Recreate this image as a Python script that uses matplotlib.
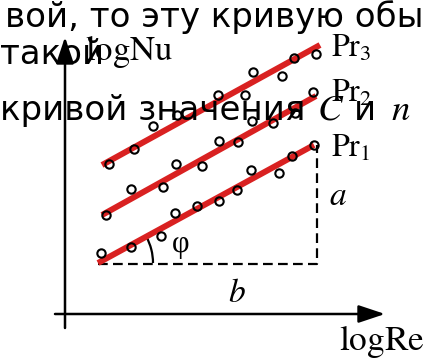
import matplotlib
matplotlib.use("Agg")
import matplotlib.pyplot as plt
from matplotlib.patches import Arc

plt.rcParams['mathtext.fontset'] = 'stix'
plt.rcParams['lines.scale_dashes'] = False

# точки (координаты в пикселях картинки, y вниз)
pr1_x = [101, 131, 161, 175, 197, 219, 237, 251, 279, 292, 314]
pr1_y = [253, 247, 236, 213, 206, 201, 190, 170, 173, 156, 145]
pr2_x = [106, 131, 163, 176, 202, 219, 238, 252, 273, 295, 313]
pr2_y = [215, 189, 187, 164, 166, 141, 142, 121, 123, 113, 92]
pr3_x = [109, 134, 153, 177, 218, 245, 253, 282, 294, 316]
pr3_y = [164, 149, 126, 115, 95, 95, 72, 76, 58, 54]

# аппроксимирующие прямые: (x0, y0, x1, y1)
fit_x0 = [98, 102, 102]
fit_y0 = [263, 215, 165]
fit_x1 = [314, 316, 320]
fit_y1 = [145, 96, 45]
labels = [r'$\mathrm{Pr}_1$', r'$\mathrm{Pr}_2$', r'$\mathrm{Pr}_3$']
label_y = [157, 102, 57]

RED = '#d92121'
TXT = 24.5

fig = plt.figure(figsize=(4.27, 3.58), dpi=100)
ax = fig.add_axes([0, 0, 1, 1])
ax.set_xlim(0, 427)
ax.set_ylim(358, 0)
ax.axis('off')

# оси
arrow = dict(arrowstyle='-|>,head_length=0.9,head_width=0.3', lw=1.8,
             color='k', shrinkA=0, shrinkB=0, mutation_scale=18)
ax.annotate('', xy=(65, 37), xytext=(65, 328), arrowprops=arrow)
ax.annotate('', xy=(385, 314), xytext=(55, 314), arrowprops=arrow)

# прямые и точки
series = [(pr1_x, pr1_y), (pr2_x, pr2_y), (pr3_x, pr3_y)]
for i, (xs, ys) in enumerate(series):
    ax.plot([fit_x0[i], fit_x1[i]], [fit_y0[i], fit_y1[i]], color=RED,
            lw=4.3, solid_capstyle='butt', zorder=2)
    ax.plot(xs, ys, 'o', ms=6, mfc='none', mec='k', mew=1.5, zorder=3)
    ax.text(331, label_y[i], labels[i], fontsize=23, va='baseline')

# треугольник a, b
x0, y0, x1, y1 = fit_x0[0], fit_y0[0], fit_x1[0], fit_y1[0]
ax.plot([x0, x1 + 3, x1 + 3], [y0 + 1, y0 + 1, y1], color='k', lw=1.6,
        dashes=(7, 3.8), zorder=1)
ax.add_patch(Arc((x0, y0), 110, 110, theta1=-28.6, theta2=0, color='k', lw=1.6))
ax.text(181, 252, 'φ', family='Liberation Serif', fontsize=22, ha='center', va='baseline')
ax.text(338, 205, r'$a$', fontsize=24, ha='center', va='baseline')
ax.text(237, 302, r'$b$', fontsize=24, ha='center', va='baseline')

ax.text(85, 60, r'$\mathrm{logNu}$', fontsize=25, va='baseline')
ax.text(339, 350, r'$\mathrm{logRe}$', fontsize=25.5, va='baseline')

# наложенный текст страницы
ax.text(5, 27, 'вой, то эту кривую обыч', fontsize=TXT, va='baseline')
ax.text(0, 64, 'такой', fontsize=TXT, va='baseline')
ax.text(0, 120, 'кривой значения', fontsize=TXT, va='baseline')
ax.text(317, 120, r'$C$', fontsize=TXT + 2, va='baseline')
ax.text(354, 120, 'и', fontsize=TXT, va='baseline')
ax.text(391, 120, r'$n$', fontsize=TXT + 2, va='baseline')

fig.savefig('out.png', dpi=100)
